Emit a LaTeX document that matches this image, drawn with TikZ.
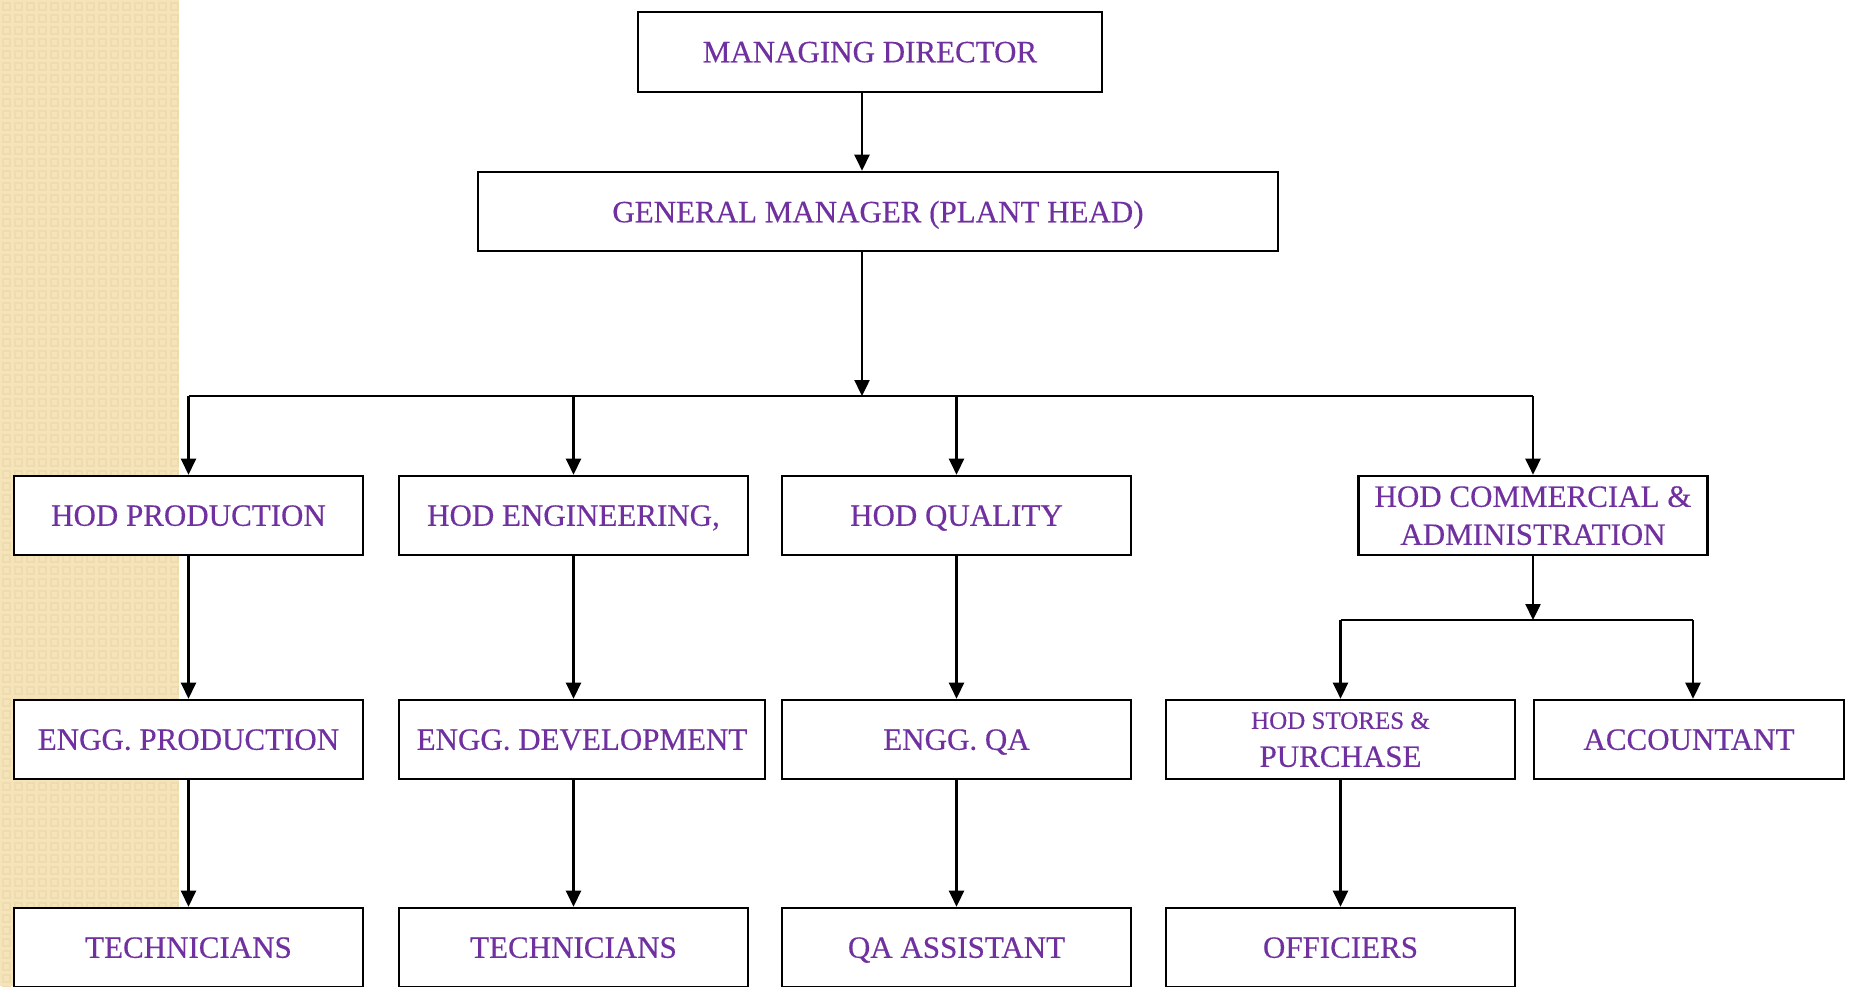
\documentclass[tikz,border=0pt]{standalone}
\usepackage{fontspec}
\setmainfont{Liberation Serif}[FakeBold=0.35]
\usetikzlibrary{arrows.meta}
\definecolor{txt}{HTML}{7030A0}
\definecolor{beigebg}{HTML}{F5E4BA}
\definecolor{beigedk}{HTML}{EEDCAE}
\begin{document}
\begin{tikzpicture}[x=1pt,y=-1pt,
  box/.style={draw=black,line width=2.6pt,fill=white,text=txt,inner sep=0pt,
    minimum height=79pt,font=\fontsize{31}{38}\selectfont,align=center,text depth=0pt},
  wbox/.style={box,minimum width=349pt},
  link/.style={line width=2.4pt,-{Triangle[width=15pt,length=16pt]}},
  busline/.style={line width=2.8pt}]
\useasboundingbox (0,0) rectangle (1849,986);
\clip (0,0) rectangle (1849,986);
% textured band
\fill[beigebg] (0,0) rectangle (179,986);
\foreach \i in {0,...,14}{\foreach \j in {0,...,82}{
  \draw[beigedk,line width=1.6pt] (\i*12+3,\j*12+3) rectangle ++(7,7);}}
% nodes
\node[box,minimum width=464pt,minimum height=80pt] (md) at (870,52) {MANAGING DIRECTOR};
\node[box,minimum width=800pt] (gm) at (878,211.5) {GENERAL MANAGER (PLANT HEAD)};
\node[wbox] (hp) at (188.5,515.5) {HOD PRODUCTION};
\node[wbox] (he) at (573.5,515.5) {HOD ENGINEERING,};
\node[wbox] (hq) at (956.5,515.5) {HOD QUALITY};
\node[wbox] (hc) at (1533,515.5) {HOD COMMERCIAL \&\\ADMINISTRATION};
\node[wbox] (ep) at (188.5,739.5) {ENGG. PRODUCTION};
\node[box,minimum width=366pt] (ed) at (582,739.5) {ENGG. DEVELOPMENT};
\node[wbox] (eq) at (956.5,739.5) {ENGG. QA};
\node[wbox] (hs) at (1340.5,739.5) {{\fontsize{25}{30}\selectfont HOD STORES \&}\\PURCHASE};
\node[box,minimum width=310pt] (acc) at (1689,739.5) {ACCOUNTANT};
\node[wbox] (t1) at (188.5,947.5) {TECHNICIANS};
\node[wbox] (t2) at (573.5,947.5) {TECHNICIANS};
\node[wbox] (qa) at (956.5,947.5) {QA ASSISTANT};
\node[wbox] (of) at (1340.5,947.5) {OFFICIERS};
% connectors
\draw[link] ([xshift=-8pt]md.south) -- ([xshift=-16pt]gm.north);
\coordinate (bus) at (862,396);
\draw[link] ([xshift=-16pt]gm.south) -- (bus);
\draw[busline] (hp.north |- bus) -- (hc.north |- bus);
\foreach \n in {hp,he,hq,hc}{\draw[link] (\n.north |- bus) -- (\n.north);}
\draw[link] (hp.south) -- (hp.south |- ep.north);
\draw[link] (he.south) -- (he.south |- ed.north);
\draw[link] (hq.south) -- (hq.south |- eq.north);
\coordinate (sbus) at (1533,620);
\draw[link] (hc.south) -- (sbus);
\draw[busline] (hs.north |- sbus) -- ([xshift=4pt]acc.north |- sbus);
\draw[link] (hs.north |- sbus) -- (hs.north);
\draw[link] ([xshift=4pt]acc.north |- sbus) -- ([xshift=4pt]acc.north);
\draw[link] (ep.south) -- (ep.south |- t1.north);
\draw[link] (he.south |- ed.south) -- (t2.north);
\draw[link] (eq.south) -- (eq.south |- qa.north);
\draw[link] (hs.south) -- (hs.south |- of.north);
\end{tikzpicture}
\end{document}
